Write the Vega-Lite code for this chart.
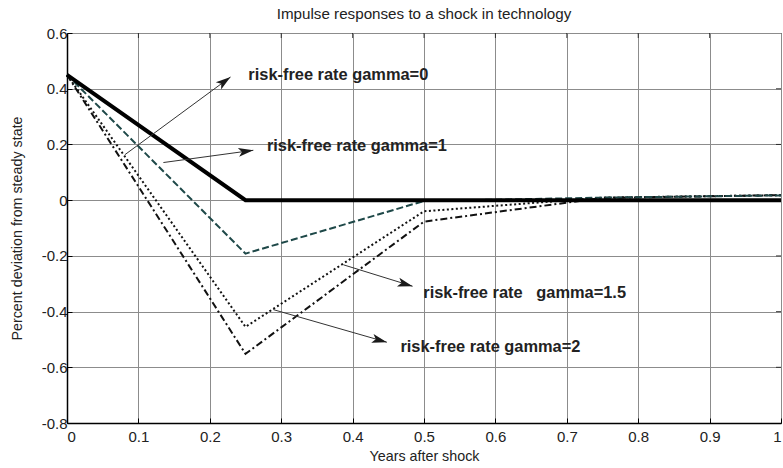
{
  "$schema": "https://vega.github.io/schema/vega-lite/v6.json",
  "width": 714,
  "height": 390,
  "autosize": "none",
  "padding": {"left": 67, "top": 33, "right": 2, "bottom": 45},
  "background": "white",
  "title": {"text": "Impulse responses to a shock in technology", "fontSize": 15.2, "fontWeight": "normal", "font": "Liberation Sans", "color": "#222222", "baseline": "alphabetic", "frame": "group", "offset": 2, "dy": 10},
  "config": {
    "view": {"stroke": "black", "strokeWidth": 1},
    "axis": {
      "labelFont": "Liberation Sans", "labelFontSize": 15, "labelColor": "#222222",
      "titleFont": "Liberation Sans", "titleFontSize": 14.3, "titleFontWeight": "normal", "titleColor": "#222222",
      "domainColor": "black", "domainWidth": 1.5,
      "tickColor": "black", "tickSize": -5, "tickWidth": 1,
      "gridColor": "#8c8c8c", "gridWidth": 1, "gridOpacity": 1,
      "labelExpr": "toString(datum.value)"
    }
  },
  "datasets": {
    "lines": [
      {"series": "g0", "x": 0, "y": 0.45}, {"series": "g0", "x": 0.25, "y": 0}, {"series": "g0", "x": 0.5, "y": 0}, {"series": "g0", "x": 0.75, "y": 0}, {"series": "g0", "x": 1, "y": 0},
      {"series": "g1", "x": 0, "y": 0.45}, {"series": "g1", "x": 0.25, "y": -0.192}, {"series": "g1", "x": 0.5, "y": -0.003}, {"series": "g1", "x": 0.75, "y": 0.009}, {"series": "g1", "x": 1, "y": 0.017},
      {"series": "g15", "x": 0, "y": 0.45}, {"series": "g15", "x": 0.25, "y": -0.455}, {"series": "g15", "x": 0.5, "y": -0.04}, {"series": "g15", "x": 0.75, "y": 0.009}, {"series": "g15", "x": 1, "y": 0.018},
      {"series": "g2", "x": 0, "y": 0.45}, {"series": "g2", "x": 0.25, "y": -0.552}, {"series": "g2", "x": 0.5, "y": -0.077}, {"series": "g2", "x": 0.75, "y": 0.008}, {"series": "g2", "x": 1, "y": 0.018}
    ],
    "arrows": [
      {"arrow": "a0", "x": 0.081, "y": 0.163, "x2": 0.229, "y2": 0.442},
      {"arrow": "a1", "x": 0.135, "y": 0.135, "x2": 0.261, "y2": 0.179},
      {"arrow": "a15", "x": 0.387, "y": -0.232, "x2": 0.484, "y2": -0.309},
      {"arrow": "a2", "x": 0.289, "y": -0.393, "x2": 0.448, "y2": -0.51}
    ],
    "labels": [
      {"text": "risk-free rate gamma=0", "x": 0.254, "y": 0.451},
      {"text": "risk-free rate gamma=1", "x": 0.28, "y": 0.193},
      {"text": "risk-free rate\u00a0\u00a0\u00a0gamma=1.5", "x": 0.499, "y": -0.332},
      {"text": "risk-free rate gamma=2", "x": 0.467, "y": -0.527}
    ],
    "topticks": [
      {"x": 0.1}, {"x": 0.2}, {"x": 0.3}, {"x": 0.4}, {"x": 0.5}, {"x": 0.6}, {"x": 0.7}, {"x": 0.8}, {"x": 0.9}
    ],
    "rightticks": [
      {"y": -0.6}, {"y": -0.4}, {"y": -0.2}, {"y": 0}, {"y": 0.2}, {"y": 0.4}
    ]
  },
  "layer": [
    {
      "mark": {"type": "rule", "color": "#3333ff", "strokeWidth": 1},
      "encoding": {
        "y": {"datum": 0, "type": "quantitative", "scale": {"domain": [-0.8, 0.6], "nice": false, "zero": false},
              "axis": {"title": "Percent deviation from steady state", "values": [-0.8, -0.6, -0.4, -0.2, 0, 0.2, 0.4, 0.6], "labelPadding": 5, "titlePadding": 17, "grid": true}},
        "x": {"datum": 0, "type": "quantitative", "scale": {"domain": [0, 1], "nice": false, "zero": false},
              "axis": {"title": "Years after shock", "values": [0, 0.1, 0.2, 0.3, 0.4, 0.5, 0.6, 0.7, 0.8, 0.9, 1], "labelPadding": 11, "titlePadding": 5, "grid": true}},
        "x2": {"datum": 1}
      }
    },
    {
      "data": {"name": "topticks"},
      "mark": {"type": "tick", "orient": "vertical", "color": "black", "size": 10, "thickness": 1, "clip": true},
      "encoding": {"x": {"field": "x", "type": "quantitative"}, "y": {"datum": 0.6, "type": "quantitative"}}
    },
    {
      "data": {"name": "rightticks"},
      "mark": {"type": "tick", "orient": "horizontal", "color": "black", "size": 10, "thickness": 1, "clip": true},
      "encoding": {"y": {"field": "y", "type": "quantitative"}, "x": {"datum": 1, "type": "quantitative"}}
    },
    {
      "data": {"name": "lines"},
      "transform": [{"filter": "datum.series == 'g2'"}],
      "mark": {"type": "line", "color": "#111111", "strokeWidth": 2, "strokeDash": [7, 3, 2, 3]},
      "encoding": {"x": {"field": "x", "type": "quantitative"}, "y": {"field": "y", "type": "quantitative"}}
    },
    {
      "data": {"name": "lines"},
      "transform": [{"filter": "datum.series == 'g15'"}],
      "mark": {"type": "line", "color": "#111111", "strokeWidth": 2, "strokeDash": [2, 2.5]},
      "encoding": {"x": {"field": "x", "type": "quantitative"}, "y": {"field": "y", "type": "quantitative"}}
    },
    {
      "data": {"name": "lines"},
      "transform": [{"filter": "datum.series == 'g1'"}],
      "mark": {"type": "line", "color": "#1e4848", "strokeWidth": 2, "strokeDash": [7, 3]},
      "encoding": {"x": {"field": "x", "type": "quantitative"}, "y": {"field": "y", "type": "quantitative"}}
    },
    {
      "data": {"name": "lines"},
      "transform": [{"filter": "datum.series == 'g0'"}],
      "mark": {"type": "line", "color": "#000000", "strokeWidth": 4},
      "encoding": {"x": {"field": "x", "type": "quantitative"}, "y": {"field": "y", "type": "quantitative"}}
    },
    {
      "data": {"name": "arrows"},
      "mark": {"type": "rule", "color": "#333333", "strokeWidth": 1},
      "encoding": {
        "x": {"field": "x", "type": "quantitative"}, "y": {"field": "y", "type": "quantitative"},
        "x2": {"field": "x2"}, "y2": {"field": "y2"}
      }
    },
    {
      "data": {"name": "arrows"},
      "mark": {"type": "point", "shape": "M0,0L0.9,3L0,2.3L-0.9,3Z", "filled": true, "color": "#1a1a1a", "opacity": 1, "size": 100, "strokeWidth": 0},
      "encoding": {
        "x": {"field": "x2", "type": "quantitative"}, "y": {"field": "y2", "type": "quantitative"},
        "angle": {"field": "arrow", "type": "nominal", "scale": {"type": "ordinal", "domain": ["a0", "a1", "a15", "a2"], "range": [53.5, 82, 106, 105]}, "legend": null}
      }
    },
    {
      "data": {"name": "labels"},
      "mark": {"type": "text", "font": "Liberation Sans", "fontWeight": "bold", "fontSize": 16.4, "align": "left", "baseline": "middle", "color": "#222222"},
      "encoding": {
        "x": {"field": "x", "type": "quantitative"}, "y": {"field": "y", "type": "quantitative"},
        "text": {"field": "text"}
      }
    }
  ]
}
